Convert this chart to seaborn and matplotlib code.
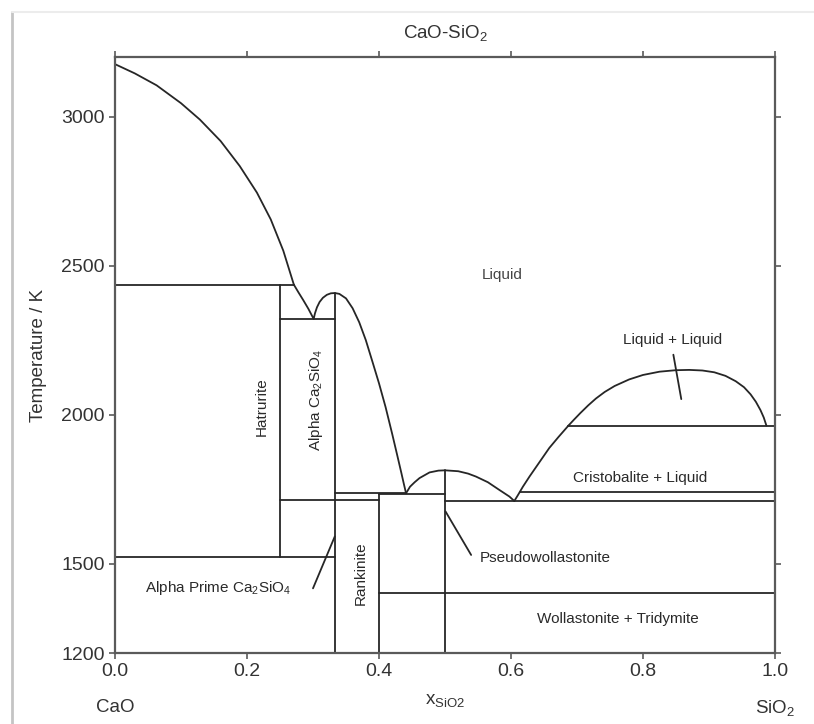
import numpy as np
import pandas as pd
import seaborn as sns
import matplotlib
matplotlib.use("Agg")
import matplotlib.pyplot as plt
from matplotlib.lines import Line2D

# ---------------- data ----------------
# liquidus on the CaO side
liq_cao_x = [0.0, 0.03, 0.063, 0.10, 0.1286, 0.16, 0.189, 0.215, 0.236, 0.255, 0.271]
liq_cao_t = [3176, 3145, 3105, 3045, 2990, 2918, 2834, 2745, 2655, 2550, 2436]

# Ca2SiO4 field liquidus (down to eutectic, up to congruent melt, down to eutectic)
liq_c2s_x = [0.271, 0.278, 0.285, 0.293, 0.301, 0.303, 0.306, 0.310, 0.315, 0.321,
             0.327, 0.3333, 0.340, 0.350, 0.360, 0.370, 0.380, 0.390, 0.400, 0.410,
             0.420, 0.428, 0.434, 0.438, 0.441]
liq_c2s_t = [2436, 2410, 2385, 2355, 2321, 2340, 2360, 2378, 2392, 2402,
             2407, 2408, 2405, 2390, 2357, 2310, 2250, 2178, 2105, 2025,
             1935, 1860, 1803, 1764, 1736]

# pseudowollastonite dome
liq_cs_x = [0.441, 0.447, 0.454, 0.4614, 0.4766, 0.490, 0.500, 0.520, 0.535, 0.547,
            0.565, 0.5825, 0.5976, 0.605]
liq_cs_t = [1736, 1758, 1773, 1787, 1806, 1812, 1813, 1810, 1802, 1792,
            1773, 1747, 1725, 1710]

# silica liquidus
liq_si_x = [0.605, 0.610, 0.618, 0.628, 0.643, 0.658, 0.672, 0.687]
liq_si_t = [1710, 1728, 1758, 1792, 1840, 1888, 1925, 1963]

# liquid miscibility gap
gap_x = [0.687, 0.695, 0.705, 0.717, 0.7287, 0.742, 0.757, 0.779, 0.800, 0.825,
         0.8497, 0.870, 0.890, 0.908, 0.925, 0.9405, 0.953, 0.963, 0.971, 0.978,
         0.983, 0.987]
gap_t = [1963, 1982, 2005, 2031, 2054, 2076, 2096, 2118, 2133, 2144,
         2149, 2150, 2148, 2142, 2130, 2112, 2092, 2068, 2043, 2015,
         1990, 1963]

# isotherms: temperature, x start, x end
iso_t  = [2436, 2321, 1521, 1714, 1737, 1733, 1709, 1740, 1963, 1400]
iso_x0 = [0.0, 0.25, 0.0, 0.25, 0.3333, 0.40, 0.50, 0.613, 0.687, 0.40]
iso_x1 = [0.271, 0.3333, 0.3333, 0.40, 0.441, 0.50, 1.0, 1.0, 1.0, 1.0]

# compound lines: composition, T bottom, T top
comp_x  = [0.25, 0.3333, 0.40, 0.50]
comp_t0 = [1521, 1200, 1200, 1200]
comp_t1 = [2436, 2408, 1733, 1813]

# label pointer lines
ptr_x0 = [0.300, 0.5008, 0.846]
ptr_x1 = [0.333, 0.5396, 0.858]
ptr_t0 = [1417, 1675, 2201]
ptr_t1 = [1591, 1529, 2052]

x_ticks = [0.0, 0.2, 0.4, 0.6, 0.8, 1.0]
y_ticks = [1200, 1500, 2000, 2500, 3000]

# ---------------- long-form table ----------------
rows = []
seg = 0
for xs, ts in [(liq_cao_x, liq_cao_t), (liq_c2s_x, liq_c2s_t), (liq_cs_x, liq_cs_t),
               (liq_si_x, liq_si_t), (gap_x, gap_t)]:
    for i, (xx, tt) in enumerate(zip(xs, ts)):
        rows.append((seg, i, xx, tt, "boundary"))
    seg += 1
for t, a, b in zip(iso_t, iso_x0, iso_x1):
    rows += [(seg, 0, a, t, "boundary"), (seg, 1, b, t, "boundary")]
    seg += 1
for xx, a, b in zip(comp_x, comp_t0, comp_t1):
    rows += [(seg, 0, xx, a, "boundary"), (seg, 1, xx, b, "boundary")]
    seg += 1
for a, b, c, d in zip(ptr_x0, ptr_x1, ptr_t0, ptr_t1):
    rows += [(seg, 0, a, c, "pointer"), (seg, 1, b, d, "pointer")]
    seg += 1
df = pd.DataFrame(rows, columns=["seg", "order", "x", "T", "kind"])

# ---------------- plot ----------------
sns.set_theme(style="ticks")
plt.rcParams["font.family"] = ["Liberation Sans", "DejaVu Sans"]
plt.rcParams["mathtext.default"] = "regular"

fig = plt.figure(figsize=(8.14, 7.24), dpi=100)
ax = fig.add_axes([115 / 814, 1 - 653 / 724, 660 / 814, 596 / 724])

line_col = "#262626"
sns.lineplot(data=df, x="x", y="T", units="seg", estimator=None, sort=False,
             color=line_col, linewidth=1.3, legend=False, ax=ax)
for ln in ax.get_lines():
    ln.set_solid_joinstyle("round")
    ln.set_solid_capstyle("round")

ax.set_xlim(0, 1)
ax.set_ylim(1200, 3200)
ax.set_xticks(x_ticks)
ax.set_xticklabels([f"{v:.1f}" for v in x_ticks])
ax.set_yticks(y_ticks)
ax.set_yticklabels([str(v) for v in y_ticks])

for s in ax.spines.values():
    s.set_visible(True)
    s.set_linewidth(1.6)
    s.set_color("#5a5a5a")
ax.tick_params(direction="out", length=4.5, width=1.2, color="#5a5a5a",
               labelsize=14, labelcolor="#333333", pad=3,
               top=True, right=True, labeltop=False, labelright=False)

txt = "#2a2a2a"
ax.set_ylabel("Temperature / K", fontsize=13.5, color="#333333")
ax.yaxis.set_label_coords(-0.1165, 0.5)
ax.yaxis.label.set_va("center")
ax.set_xlabel("x$_{SiO2}$", fontsize=13.5, color="#333333")
ax.xaxis.set_label_coords(0.5, -0.079)
ax.xaxis.label.set_va("center")

ax.text(0.0, -0.092, "CaO", transform=ax.transAxes, ha="center", va="center",
        fontsize=13.5, color="#333333")
ax.text(1.0, -0.092, "SiO$_2$", transform=ax.transAxes, ha="center", va="center",
        fontsize=13.5, color="#333333")
ax.text(0.5, 1 + 24 / 596, "CaO-SiO$_2$", transform=ax.transAxes, ha="center",
        va="center", fontsize=13.5, color="#333333")

fs = 11
ax.text(0.587, 2470, "Liquid", ha="center", va="center", fontsize=fs, color="#444444")
ax.text(0.845, 2251, "Liquid + Liquid", ha="center", va="center", fontsize=fs, color=txt)
ax.text(0.796, 1787, "Cristobalite + Liquid", ha="center", va="center", fontsize=fs, color=txt)
ax.text(0.552, 1519, "Pseudowollastonite", ha="left", va="center", fontsize=fs, color=txt)
ax.text(0.762, 1314, "Wollastonite + Tridymite", ha="center", va="center", fontsize=fs, color=txt)
ax.text(0.156, 1417, "Alpha Prime Ca$_2$SiO$_4$", ha="center", va="center", fontsize=fs, color=txt)
ax.text(0.372, 1468, "Rankinite", ha="center", va="center", rotation=90, fontsize=fs, color=txt)
ax.text(0.222, 2027, "Hatrurite", ha="center", va="center", rotation=90, fontsize=fs, color=txt)
ax.text(0.304, 2050, "Alpha Ca$_2$SiO$_4$", ha="center", va="center", rotation=90, fontsize=fs, color=txt)

# screenshot card edges
fig.add_artist(Line2D([12 / 814, 12 / 814], [0, 1 - 12 / 724], transform=fig.transFigure,
                      color="#c4c4c4", linewidth=2))
fig.add_artist(Line2D([12 / 814, 1], [1 - 12 / 724, 1 - 12 / 724], transform=fig.transFigure,
                      color="#ececec", linewidth=1.5))

fig.savefig("out.png", dpi=100)
